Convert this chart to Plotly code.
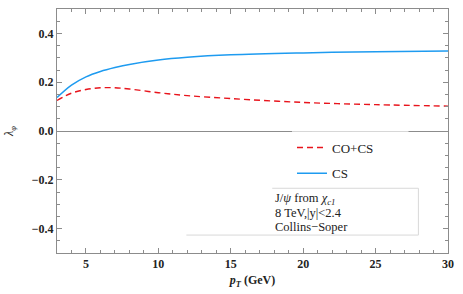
import plotly.graph_objects as go

pt = [3, 4, 5, 6, 7, 8, 10, 12, 15, 20, 25, 30]
lam_cocs = [0.125, 0.155, 0.170, 0.177, 0.177, 0.172, 0.157, 0.145, 0.133, 0.117, 0.108, 0.102]
lam_cs = [0.137, 0.188, 0.222, 0.244, 0.260, 0.273, 0.291, 0.302, 0.312, 0.320, 0.325, 0.328]

x_ticks = [5, 10, 15, 20, 25, 30]
x_ticklabels = ["5", "10", "15", "20", "25", "30"]
y_ticks = [-0.4, -0.2, 0.0, 0.2, 0.4]
y_ticklabels = ["\u22120.4", "\u22120.2", "0.0", "0.2", "0.4"]

serif = "Liberation Serif"
fig = go.Figure()
fig.add_trace(go.Scatter(x=pt, y=lam_cocs, mode="lines", name="CO+CS", legendgroup="a",
                         line=dict(color="#E8141C", width=1.4, dash="6px,4px", shape="spline")))
fig.add_trace(go.Scatter(x=pt, y=lam_cs, mode="lines", name="CS", legendgroup="b",
                         line=dict(color="#1E9BF0", width=1.5, shape="spline")))

axis_common = dict(showline=True, linecolor="#8c8c8c", linewidth=1, mirror="allticks",
                   ticks="inside", ticklen=5, tickcolor="#8c8c8c", showgrid=False,
                   tickfont=dict(family=serif, size=12, color="#222"))
fig.update_xaxes(range=[3, 30], tickvals=x_ticks, ticktext=["<b>%s</b>" % t for t in x_ticklabels],
                 zeroline=False,
                 minor=dict(dtick=1, ticklen=3, ticks="inside", tickcolor="#8c8c8c"),
                 title=dict(text="<b><i>p<sub>T</sub></i> (GeV)</b>", standoff=5,
                            font=dict(family=serif, size=12, color="#222")),
                 **axis_common)
fig.update_yaxes(range=[-0.5, 0.5], tickvals=y_ticks, ticktext=["<b>%s</b>" % t for t in y_ticklabels],
                 zeroline=True, zerolinecolor="#8c8c8c", zerolinewidth=1,
                 minor=dict(dtick=0.05, ticklen=3, ticks="inside", tickcolor="#8c8c8c"),
                 title=dict(text="<i>λ<sub>φ</sub></i>", standoff=15,
                            font=dict(family=serif, size=12, color="#222")),
                 **axis_common)

def px(xp):
    return (xp - 52) / 396
def py(yp):
    return (253 - yp) / 245

shapes = [
    dict(x0=px(183), x1=px(418), y0=py(235), y1=py(235)),
    dict(x0=px(418), x1=px(418), y0=py(235), y1=py(188)),
    dict(x0=px(270), x1=px(418), y0=py(188), y1=py(188)),
    dict(x0=px(290), x1=px(408), y0=py(131), y1=py(131)),
]
for s in shapes:
    fig.add_shape(type="line", xref="paper", yref="paper", line=dict(color="#d8d8d8", width=1), **s)

lines = ["J/<i>ψ</i> from <i>χ<sub>c1</sub></i>", "8 TeV,|y|<2.4", "Collins\u2212Soper"]
for i, t in enumerate(lines):
    fig.add_annotation(x=px(271), y=py(199 + 14 * i), xref="paper", yref="paper", text=t,
                       showarrow=False, xanchor="left", yanchor="middle",
                       font=dict(family=serif, size=12.5, color="#222"))

fig.update_layout(
    width=463, height=294, margin=dict(l=52, r=15, t=8, b=41),
    font=dict(family=serif, size=12, color="#222"),
    plot_bgcolor="white", paper_bgcolor="white",
    showlegend=True,
    legend=dict(x=px(290), y=py(132), xanchor="left", yanchor="top", tracegroupgap=6,
                bgcolor="rgba(0,0,0,0)", font=dict(family=serif, size=13, color="#222")),
)
fig.write_html("out.html", config={"displayModeBar": False},
               post_script="document.body.style.margin='0';document.body.style.overflow='hidden';")
